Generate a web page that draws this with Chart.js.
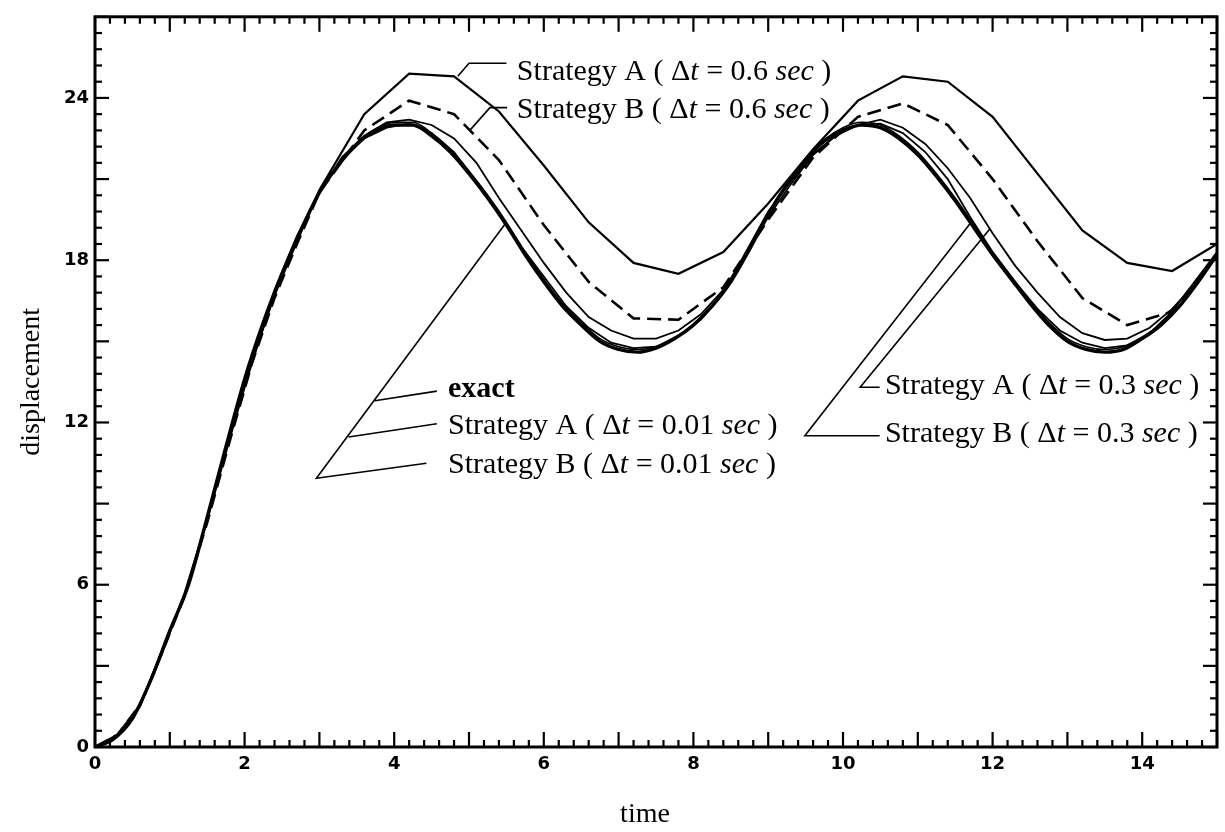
<!DOCTYPE html>
<html><head><meta charset="utf-8">
<script src="https://cdn.jsdelivr.net/npm/chart.js@4.4.0/dist/chart.umd.min.js"></script>
<style>html,body{margin:0;padding:0;background:#fff;}#wrap{width:1225px;height:832px;}</style>
</head><body><div id="wrap"><canvas id="c" width="1225" height="832"></canvas></div>
<script>
// ---- data ----
const tFine = [0,0.25,0.5,0.75,1,1.25,1.5,1.75,2,2.25,2.5,2.75,3,3.25,3.5,3.75,4,4.25,4.5,4.75,5,5.25,5.5,5.75,6,6.25,6.5,6.75,7,7.25,7.5,7.75,8,8.25,8.5,8.75,9,9.25,9.5,9.75,10,10.25,10.5,10.75,11,11.25,11.5,11.75,12,12.25,12.5,12.75,13,13.25,13.5,13.75,14,14.25,14.5,14.75,15];
const exact = [0,0.3,1.05,2.5,4.3,6.0,8.5,11.1,13.6,15.7,17.5,19.1,20.5,21.5,22.3,22.8,23.0,23.0,22.6,22.0,21.2,20.3,19.3,18.2,17.2,16.3,15.6,15.0,14.7,14.6,14.75,15.1,15.6,16.3,17.2,18.4,19.7,20.8,21.7,22.4,22.8,23.0,22.9,22.5,21.9,21.1,20.2,19.2,18.2,17.3,16.4,15.6,15.0,14.7,14.6,14.7,15.1,15.6,16.3,17.2,18.2];
const strategyA001 = [0,0.3,1.05,2.5,4.3,6.0,8.5,11.1,13.6,15.7,17.5,19.1,20.5,21.5,22.3,22.85,23.1,23.1,22.7,22.1,21.3,20.4,19.4,18.3,17.3,16.4,15.7,15.1,14.8,14.7,14.8,15.15,15.6,16.3,17.2,18.4,19.7,20.8,21.7,22.45,22.9,23.1,23.0,22.6,22.0,21.2,20.3,19.3,18.3,17.4,16.5,15.7,15.1,14.8,14.7,14.8,15.15,15.65,16.3,17.2,18.2];
const strategyB001 = [0,0.3,1.05,2.5,4.3,6.0,8.5,11.1,13.6,15.7,17.5,19.1,20.5,21.5,22.3,22.8,23.0,23.0,22.6,22.0,21.2,20.3,19.3,18.2,17.2,16.3,15.6,15.0,14.7,14.6,14.75,15.1,15.6,16.3,17.2,18.4,19.7,20.8,21.7,22.4,22.8,23.0,22.9,22.5,21.9,21.1,20.2,19.2,18.2,17.3,16.4,15.6,15.0,14.7,14.6,14.7,15.1,15.6,16.3,17.2,18.2];
const t03 = [0,0.3,0.6,0.9,1.2,1.5,1.8,2.1,2.4,2.7,3,3.3,3.6,3.9,4.2,4.5,4.8,5.1,5.4,5.7,6,6.3,6.6,6.9,7.2,7.5,7.8,8.1,8.4,8.7,9,9.3,9.6,9.9,10.2,10.5,10.8,11.1,11.4,11.7,12,12.3,12.6,12.9,13.2,13.5,13.8,14.1,14.4,14.7,15];
const strategyA03 = [0,0.4,1.5,3.6,5.6,8.4,11.6,14.4,16.9,18.9,20.5,21.8,22.6,23.1,23.2,23.0,22.5,21.6,20.3,19.1,17.9,16.8,15.9,15.4,15.1,15.1,15.4,16.0,16.9,18.2,19.6,20.8,21.9,22.6,23.0,23.2,22.9,22.3,21.4,20.3,19.0,17.8,16.8,15.9,15.3,15.05,15.1,15.5,16.2,17.1,18.2];
const strategyB03 = [0,0.4,1.5,3.6,5.6,8.4,11.5,14.2,16.8,18.8,20.5,21.7,22.5,22.9,23.05,22.7,22.0,20.9,19.8,18.5,17.4,16.3,15.5,14.95,14.75,14.8,15.2,15.8,16.8,18.3,19.8,20.9,21.9,22.6,23.0,23.05,22.7,22.0,21.0,19.6,18.3,17.2,16.2,15.4,14.95,14.75,14.85,15.3,16.1,17.2,18.3];
// the 0.6 s curves coincide with the others during the rise, so they are read more densely there
const t06 = [0,0.3,0.6,0.9,1.2,1.5,1.8,2.1,2.4,2.7,3,3.6,4.2,4.8,5.4,6,6.6,7.2,7.8,8.4,9,9.6,10.2,10.8,11.4,12,12.6,13.2,13.8,14.4,15];
const strategyA06 = [0,0.45,1.55,3.5,5.7,8.4,11.4,14.3,16.7,18.7,20.6,23.4,24.9,24.8,23.5,21.5,19.4,17.9,17.5,18.3,20.1,22.1,23.9,24.8,24.6,23.3,21.2,19.1,17.9,17.6,18.6];
const strategyB06 = [0,0.45,1.55,3.5,5.6,8.3,11.3,14.2,16.6,18.6,20.5,22.8,23.9,23.4,21.7,19.3,17.2,15.85,15.8,17.0,19.5,21.8,23.3,23.8,23.0,21.0,18.7,16.6,15.6,16.1,18.2];
const xTickLabels = [0,2,4,6,8,10,12,14];
const yTickLabels = [0,6,12,18,24];
const xMinorStep = 0.2, xMajorEvery = 5;
const yMinorStep = 0.6, yMajorEvery = 5;

// annotation texts and their anchor (data units)
const labelSpecs = [
  {name:'Strategy A', dt:'0.6',  t:5.64,  v:24.66},
  {name:'Strategy B', dt:'0.6',  t:5.64,  v:23.27},
  {name:'exact',                 t:4.72,  v:12.93, bold:true},
  {name:'Strategy A', dt:'0.01', t:4.72,  v:11.58},
  {name:'Strategy B', dt:'0.01', t:4.72,  v:10.12},
  {name:'Strategy A', dt:'0.3',  t:10.56, v:13.04},
  {name:'Strategy B', dt:'0.3',  t:10.56, v:11.29}
];
const leaderLines = [
  [[5.5,25.28],[5.0,25.28],[4.85,24.8]],
  [[5.51,23.64],[5.28,23.64],[5.01,22.8]],
  [[4.57,13.16],[3.74,12.80]],
  [[4.57,11.95],[3.39,11.46]],
  [[4.43,10.49],[2.96,9.94],[5.48,19.33]],
  [[10.49,13.30],[10.23,13.30],[11.97,19.18]],
  [[10.49,11.51],[9.49,11.51],[11.70,19.36]]
];

const pts = (xs, ys) => xs.map((x, i) => ({x, y: ys[i]}));
const base = {fill:false, pointRadius:0, borderColor:'#000', tension:0};

const serif = '"Liberation Serif","Times New Roman",serif';
const overlay = {
  id:'overlay',
  afterDraw(chart){
    const {ctx, chartArea:a, scales:{x, y}} = chart;
    ctx.save();
    ctx.strokeStyle = '#000'; ctx.fillStyle = '#000';
    const seg = (x1,y1,x2,y2)=>{ctx.beginPath();ctx.moveTo(x1,y1);ctx.lineTo(x2,y2);ctx.stroke();};
    // inward ticks on all four sides
    ctx.lineWidth = 2.2;
    const nx = Math.round((x.max - x.min)/xMinorStep);
    for (let i=0;i<=nx;i++){
      const px = x.getPixelForValue(x.min + i*xMinorStep);
      const len = (i % xMajorEvery === 0) ? 15 : 7;
      seg(px, a.bottom, px, a.bottom - len);
      seg(px, a.top, px, a.top + len);
    }
    const ny = Math.round((y.max - y.min)/yMinorStep);
    for (let i=0;i<=ny;i++){
      const py = y.getPixelForValue(y.min + i*yMinorStep);
      const len = (i % yMajorEvery === 0) ? 14 : 7;
      seg(a.left, py, a.left + len, py);
      seg(a.right, py, a.right - len, py);
    }
    // frame
    ctx.lineWidth = 3;
    ctx.strokeRect(a.left, a.top, a.right - a.left, a.bottom - a.top);
    // leader lines
    ctx.lineWidth = 1.6;
    leaderLines.forEach(L=>{
      ctx.beginPath();
      L.forEach((p,i)=>{const px=x.getPixelForValue(p[0]), py=y.getPixelForValue(p[1]); i?ctx.lineTo(px,py):ctx.moveTo(px,py);});
      ctx.stroke();
    });
    // labels
    const fs = 30;
    ctx.textBaseline = 'alphabetic'; ctx.textAlign = 'left';
    labelSpecs.forEach(s=>{
      let px = x.getPixelForValue(s.t), py = y.getPixelForValue(s.v);
      if (!s.dt){
        ctx.font = (s.bold?'bold ':'') + fs + 'px ' + serif;
        ctx.fillText(s.name, px, py);
        return;
      }
      const parts = [
        [s.name + ' ( ', ''], ['Δ',''], ['t','italic '], [' = ' + s.dt + ' ', ''], ['sec','italic '], [' )','']
      ];
      parts.forEach(([txt, st])=>{
        ctx.font = st + fs + 'px ' + serif;
        ctx.fillText(txt, px, py);
        px += ctx.measureText(txt).width;
      });
    });
    // axis titles
    ctx.font = '28px ' + serif;
    ctx.textAlign = 'center'; ctx.textBaseline = 'middle';
    ctx.fillText('time', 645, 815);
    ctx.translate(32, (a.top + a.bottom)/2);
    ctx.rotate(-Math.PI/2);
    ctx.fillText('displacement', 0, 0);
    ctx.restore();
  }
};

new Chart(document.getElementById('c'), {
  type:'line',
  data:{datasets:[
    {...base, label:'exact', data:pts(tFine, exact), borderWidth:3.4, cubicInterpolationMode:'monotone'},
    {...base, label:'Strategy A (Δt = 0.01 sec)', data:pts(tFine, strategyA001), borderWidth:1.6, cubicInterpolationMode:'monotone'},
    {...base, label:'Strategy B (Δt = 0.01 sec)', data:pts(tFine, strategyB001), borderWidth:1.6, cubicInterpolationMode:'monotone'},
    {...base, label:'Strategy A (Δt = 0.3 sec)', data:pts(t03, strategyA03), borderWidth:1.8},
    {...base, label:'Strategy B (Δt = 0.3 sec)', data:pts(t03, strategyB03), borderWidth:1.8},
    {...base, label:'Strategy A (Δt = 0.6 sec)', data:pts(t06, strategyA06), borderWidth:2.2},
    {...base, label:'Strategy B (Δt = 0.6 sec)', data:pts(t06, strategyB06), borderWidth:2.6, borderDash:[14,7]}
  ]},
  options:{
    responsive:false, animation:false, devicePixelRatio:1,
    layout:{padding:{top:8, right:8, left:0, bottom:0}},
    plugins:{legend:{display:false}, tooltip:{enabled:false}},
    scales:{
      x:{type:'linear', min:0, max:15,
        afterBuildTicks:s=>{s.ticks = xTickLabels.map(v=>({value:v}));},
        afterFit:s=>{s.height = 85;},
        grid:{display:false, drawTicks:false}, border:{display:false},
        ticks:{padding:7, color:'#000', font:{family:'"DejaVu Sans"', weight:'bold', size:18}}},
      y:{type:'linear', min:0, max:27,
        afterBuildTicks:s=>{s.ticks = yTickLabels.map(v=>({value:v}));},
        afterFit:s=>{s.width = 95;},
        grid:{display:false, drawTicks:false}, border:{display:false},
        ticks:{padding:6, color:'#000', font:{family:'"DejaVu Sans"', weight:'bold', size:18}}}
    }
  },
  plugins:[overlay]
});
</script></body></html>
